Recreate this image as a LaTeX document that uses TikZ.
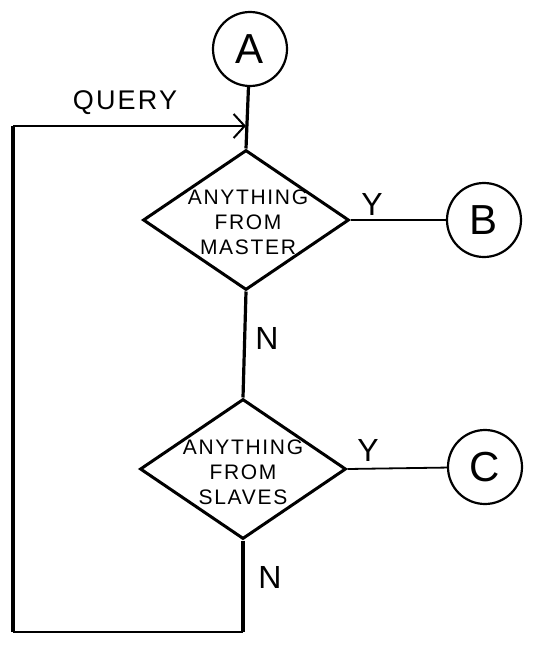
\documentclass[tikz,border=0pt]{standalone}
\usepackage{fontspec}
\setmainfont{Liberation Sans}
\newfontfamily\hand[LetterSpace=8]{Liberation Sans}
\usetikzlibrary{shapes.geometric,arrows.meta}
\tikzset{
  conn/.style={draw, circle, line width=2.2pt, minimum size=74pt, inner sep=0pt, font=\hand\fontsize{42}{42}\selectfont},
  decision/.style={draw, diamond, line width=3pt, minimum width=206pt, minimum height=140pt, inner sep=0pt},
  dtext/.style={align=center, font=\hand\fontsize{21}{25}\selectfont, inner sep=0pt},
  flow/.style={line width=3.2pt},
  side/.style={line width=1.8pt},
  yn/.style={font=\hand\fontsize{32}{32}\selectfont, inner sep=0pt},
}
\begin{document}
\begin{tikzpicture}[x=1pt,y=-1pt]
\useasboundingbox (0,0) rectangle (540,645);
% nodes
\node[conn] (A) at (250,49) {A};
\node[decision] (d1) at (246,220) {};
\node[dtext] (t1) at (248,222) {ANYTHING\\FROM\\MASTER};
\node[conn] (B) at (484,220) {B};
\node[decision] (d2) at (243,469) {};
\node[dtext] (t2) at (243,472) {ANYTHING\\FROM\\SLAVES};
\node[conn] (C) at (485,467) {C};
% labels
\node[yn] (y1) at (372,204) {Y};
\node[yn] (y2) at (368,450) {Y};
\node[yn] (n1) at (267,338) {N};
\node[yn] (n2) at (270,577) {N};
\node[font=\hand\fontsize{27}{27}\selectfont, inner sep=0pt] (q) at (125,103) {QUERY};
% coordinates
\coordinate (join) at (246,126);
\coordinate (lt) at (13,126);
\coordinate (bot) at (243,632);
\coordinate (lb) at (13,632);
% connectors
\draw[flow] (A) -- (d1.north);
\draw[flow] (d1.south) -- (d2.north);
\draw[flow] (d2.south) -- (bot);
\draw[side] (bot) -- (lb);
\draw[flow] (lb) -- (lt);
\draw[side, -{Straight Barb[length=11pt,width=24pt,line width=2pt]}] (lt) -- (join);
\draw[side] (d1.east) -- (B);
\draw[side] (d2.east) -- (C);
\end{tikzpicture}
\end{document}
